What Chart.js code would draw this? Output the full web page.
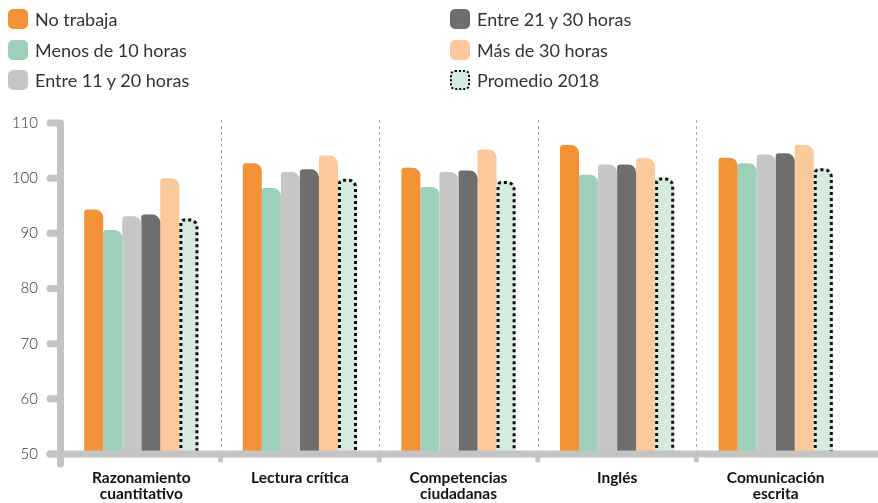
<!DOCTYPE html>
<html>
<head>
<meta charset="utf-8">
<script src="https://cdn.jsdelivr.net/npm/chart.js@4/dist/chart.umd.min.js"></script>
<style>
  html, body { margin: 0; padding: 0; background: #fff; }
  #wrap { position: relative; width: 878px; height: 503px; }
  #chart { position: absolute; left: 0; top: 0; }
  .legend-item { position: absolute; display: flex; align-items: center; font-family: Lato, sans-serif; font-size: 18px; color: #333; white-space: nowrap; }
  .legend-box { width: 20px; height: 20px; border-radius: 5px; margin-right: 7px; box-sizing: border-box; }
</style>
</head>
<body>
<div id="wrap">
  <canvas id="chart" width="878" height="503"></canvas>
  <div id="legend"></div>
</div>
<script>
const categories = [
    ['Razonamiento', 'cuantitativo'],
    'Lectura crítica',
    ['Competencias', 'ciudadanas'],
    'Inglés',
    ['Comunicación', 'escrita']
];
const seriesNames = ['No trabaja', 'Menos de 10 horas', 'Entre 11 y 20 horas', 'Entre 21 y 30 horas', 'Más de 30 horas', 'Promedio 2018'];
const noTrabaja = [94.3, 102.7, 101.9, 106.0, 103.7];
const menos10 = [90.6, 98.2, 98.4, 100.6, 102.7];
const entre11y20 = [93.1, 101.1, 101.1, 102.5, 104.3];
const entre21y30 = [93.4, 101.6, 101.4, 102.5, 104.5];
const mas30 = [100.0, 104.1, 105.2, 103.6, 106.0];
const promedio2018 = [92.7, 99.9, 99.5, 100.1, 101.8];
const yTicks = [50, 60, 70, 80, 90, 100, 110];

const seriesValues = [noTrabaja, menos10, entre11y20, entre21y30, mas30, promedio2018];
const seriesColors = ['#f39237', '#9dd0b8', '#c6c6c6', '#6e6e6e', '#fbc99b', '#d5ebdf'];
const AXIS_GRAY = '#c4c4c4';

// legend in two columns, drawn as html
const legendEl = document.getElementById('legend');
seriesNames.forEach(function (name, i) {
    const item = document.createElement('div');
    item.className = 'legend-item';
    const col = i < 3 ? 0 : 1;
    const row = i % 3;
    item.style.left = (col === 0 ? 8 : 450) + 'px';
    item.style.top = (8 + row * 30.5) + 'px';
    const box = document.createElement('div');
    box.className = 'legend-box';
    box.style.background = seriesColors[i];
    if (i === 5) box.style.border = '2.5px dotted #111';
    item.appendChild(box);
    item.appendChild(document.createTextNode(name));
    legendEl.appendChild(item);
});

// axes, separators and the dotted outline of the average bars
const decorPlugin = {
    id: 'decor',
    beforeDatasetsDraw: function (chart) {
        const ctx = chart.ctx;
        const xs = chart.scales.x;
        const area = chart.chartArea;
        ctx.save();
        ctx.strokeStyle = '#aaaaaa';
        ctx.lineWidth = 1;
        ctx.setLineDash([3, 3]);
        for (let i = 0; i < categories.length - 1; i++) {
            const sx = Math.round((xs.getPixelForValue(i) + xs.getPixelForValue(i + 1)) / 2) + 0.5;
            ctx.beginPath();
            ctx.moveTo(sx, area.top - 3);
            ctx.lineTo(sx, area.bottom);
            ctx.stroke();
        }
        ctx.restore();
    },
    afterDatasetsDraw: function (chart) {
        const ctx = chart.ctx;
        const xs = chart.scales.x;
        const ys = chart.scales.y;
        const area = chart.chartArea;

        // dotted outline for Promedio 2018
        const meta = chart.getDatasetMeta(5);
        ctx.save();
        ctx.strokeStyle = '#111';
        ctx.lineWidth = 3;
        ctx.setLineDash([3, 3]);
        meta.data.forEach(function (bar) {
            const p = bar.getProps(['x', 'y', 'width', 'base'], true);
            const l = p.x - p.width / 2 + 1.5;
            const r = p.x + p.width / 2 - 1.5;
            const t = p.y + 1.5;
            const b = Math.min(p.base, area.bottom);
            const rl = 3, rr = 7;
            ctx.beginPath();
            ctx.moveTo(l, b);
            ctx.lineTo(l, t + rl);
            ctx.arcTo(l, t, l + rl, t, rl);
            ctx.lineTo(r - rr, t);
            ctx.arcTo(r, t, r, t + rr, rr);
            ctx.lineTo(r, b);
            ctx.stroke();
        });
        ctx.restore();

        // thick rounded axes
        ctx.save();
        ctx.strokeStyle = AXIS_GRAY;
        ctx.lineCap = 'round';
        ctx.lineWidth = 7;
        const ax = area.left - 1.5;
        ctx.beginPath();
        ctx.moveTo(ax, area.top + 1);
        ctx.lineTo(ax, area.bottom + 10);
        ctx.stroke();
        yTicks.forEach(function (v) {
            const ty = ys.getPixelForValue(v);
            ctx.beginPath();
            ctx.moveTo(50, ty);
            ctx.lineTo(ax, ty);
            ctx.stroke();
        });
        ctx.beginPath();
        ctx.moveTo(50, area.bottom);
        ctx.lineTo(chart.width + 5, area.bottom);
        ctx.stroke();
        ctx.lineWidth = 5;
        for (let i = 0; i < categories.length - 1; i++) {
            const sx = (xs.getPixelForValue(i) + xs.getPixelForValue(i + 1)) / 2;
            ctx.beginPath();
            ctx.moveTo(sx, area.bottom);
            ctx.lineTo(sx, area.bottom + 6);
            ctx.stroke();
        }
        ctx.restore();
    }
};

const datasets = seriesNames.map(function (name, i) {
    return {
        label: name,
        data: seriesValues[i],
        backgroundColor: seriesColors[i],
        borderWidth: 0,
        borderRadius: { topLeft: 3, topRight: 8, bottomLeft: 0, bottomRight: 0 },
        borderSkipped: false,
        categoryPercentage: 0.72,
        barPercentage: 1.0
    };
});

new Chart(document.getElementById('chart'), {
    type: 'bar',
    data: { labels: categories, datasets: datasets },
    plugins: [decorPlugin],
    options: {
        responsive: false,
        animation: false,
        layout: { padding: { top: 123, right: 23, left: 0, bottom: 0 } },
        plugins: {
            legend: { display: false },
            tooltip: { enabled: false }
        },
        scales: {
            x: {
                grid: { display: false, drawTicks: false },
                border: { display: false },
                ticks: {
                    color: '#111',
                    padding: 16,
                    maxRotation: 0,
                    autoSkip: false,
                    font: { family: 'Lato', size: 15.5, weight: 'bold', lineHeight: 1.05 }
                },
                afterFit: function (scale) { scale.height = 49; }
            },
            y: {
                min: 50,
                max: 110,
                grid: { display: false, drawTicks: false },
                border: { display: false },
                ticks: {
                    stepSize: 10,
                    color: '#333',
                    padding: 24,
                    font: { family: 'Lato', size: 15, weight: '300' }
                },
                afterFit: function (scale) { scale.width = 62; }
            }
        }
    }
});
</script>
</body>
</html>
